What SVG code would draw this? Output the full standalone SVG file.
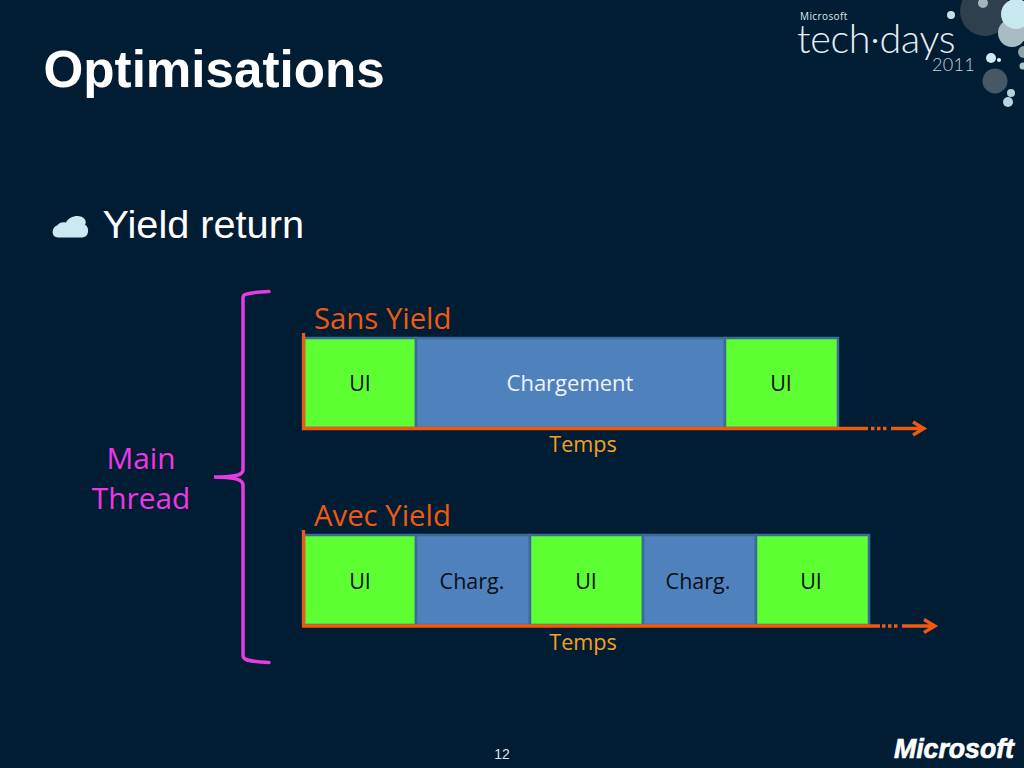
<svg xmlns="http://www.w3.org/2000/svg" width="1024" height="768" viewBox="0 0 1024 768">
<style>
text{font-family:"Open Sans","Noto Sans","Liberation Sans",sans-serif}
.sans{font-family:"Liberation Sans",Arial,sans-serif}
.ui{fill:#5dff33;stroke:#3b6c98;stroke-width:2.5}
.ch{fill:#4f81bd;stroke:#3b6c98;stroke-width:2.5}
.lb{font-size:21.500px;fill:#0a0f14;text-anchor:middle}
.lbw{font-size:22px;fill:#eef4fa;text-anchor:middle}
.head{font-size:29.300px;fill:#f0590f}
.tmp{font-size:21.600px;fill:#f5a11f;text-anchor:middle}
.ax{fill:none;stroke:#f0590f;stroke-width:3.300}
.dots{fill:none;stroke:#f0590f;stroke-width:3.300;stroke-dasharray:3.500 2.500}
.mt{font-size:29.800px;fill:#f035e6;text-anchor:middle}
.br{fill:none;stroke:#e83be0;stroke-width:3.500;stroke-linecap:round}
</style>
<rect width="1024" height="768" fill="#011d33"/>
<g id="logo">
<circle cx="985" cy="11" r="25" fill="#2f3f4e"/>
<circle cx="983" cy="3" r="5" fill="#a4b4bd"/>
<circle cx="1012" cy="33" r="14" fill="#a9bcc3"/>
<circle cx="1016" cy="14" r="15" fill="#c9e9f1"/>
<circle cx="1012" cy="17" r="10" fill="#c9e9f1"/>
<circle cx="1024" cy="52" r="6" fill="#8fa3ad"/>
<circle cx="1023" cy="66" r="3.500" fill="#a9c4cd"/>
<circle cx="951" cy="15" r="4" fill="#c4dfe6"/>
<circle cx="991" cy="58" r="5" fill="#cfe9f0"/>
<circle cx="999" cy="60" r="2" fill="#e6f3f6"/>
<circle cx="995" cy="81" r="12.500" fill="#465765"/>
<circle cx="1011" cy="93" r="4" fill="#b5d0d8"/>
<circle cx="1008" cy="102" r="5" fill="#b5d8e0"/>
<text x="800" y="20" font-size="10" fill="#dfe8ee" letter-spacing=".4">Microsoft</text>
<text x="797" y="53" font-size="39.500" fill="#e6eef3" style="font-family:Lato,sans-serif;font-weight:300" letter-spacing="-.3">tech·days</text>
<text x="932" y="71" font-size="18" fill="#c8d2d9" style="font-family:Lato,sans-serif;font-weight:300" letter-spacing=".3">2011</text>
</g>
<text id="title" class="sans" x="43.500" y="87" font-size="51.200" font-weight="700" fill="#fff">Optimisations</text>
<g id="bullet">
<path d="M58 237.500c-7 0-7-10-1-12 2-3 6-4 9-3 3-7 15-9 19-3 1 2 1 4 0 5 5 3 4 13-3 13z" fill="#c9e9f3"/>
<text class="sans" x="102.500" y="238" font-size="39.700" fill="#fff">Yield return</text>
</g>
<g id="main-thread">
<path class="br" d="M269 291.500C258 292 248 293 245 294.500Q243 295.500 243 298V470C243 475 236 477 214 477C236 477 243 480 243 485V655Q243 658 246 659.500C250 661 258 662 269 662.500"/>
<text class="mt" x="141" y="468.500">Main</text>
<text class="mt" x="141" y="508.500">Thread</text>
</g>
<g id="sans-yield">
<text class="head" x="314" y="328.500">Sans Yield</text>
<rect id="s1" class="ui" x="304" y="338" width="112" height="90"/>
<rect id="s2" class="ch" x="416" y="338" width="309" height="90"/>
<rect id="s3" class="ui" x="725" y="338" width="113" height="90"/>
<text class="lb" x="360" y="391">UI</text>
<text class="lbw" x="570" y="391">Chargement</text>
<text class="lb" x="781" y="391">UI</text>
<text class="tmp" x="583" y="452">Temps</text>
</g>
<g id="avec-yield">
<text class="head" x="314" y="525.500">Avec Yield</text>
<rect id="a1" class="ui" x="304" y="535" width="112" height="90"/>
<rect id="a2" class="ch" x="416" y="535" width="114" height="90"/>
<rect id="a3" class="ui" x="530" y="535" width="113" height="90"/>
<rect id="a4" class="ch" x="643" y="535" width="113" height="90"/>
<rect id="a5" class="ui" x="756" y="535" width="113" height="90"/>
<text class="lb" x="360" y="588.500">UI</text>
<text class="lb" x="472" y="588.500">Charg.</text>
<text class="lb" x="586" y="588.500">UI</text>
<text class="lb" x="698" y="588.500">Charg.</text>
<text class="lb" x="811" y="588.500">UI</text>
<text class="tmp" x="583" y="650">Temps</text>
</g>
<g id="connectors">
<path class="ax" d="M303.500 333V428.500H868"/>
<path class="dots" d="M871 428.500H889"/>
<path class="ax" d="M891 428.500H923M913 422L924 428.500L913 435"/>
<path class="ax" d="M303.500 530V626H880"/>
<path class="dots" d="M882 626H900"/>
<path class="ax" d="M902 626H934M924 619.500L935 626L924 632.500"/>
</g>
<text id="page" class="sans" x="502" y="759" font-size="14" fill="#d7e3ee" text-anchor="middle">12</text>
<text id="ms" class="sans" x="894" y="758" font-size="28" font-weight="700" font-style="italic" fill="#fff" stroke="#fff" stroke-width=".7" textLength="120" lengthAdjust="spacingAndGlyphs">Microsoft</text>
</svg>
